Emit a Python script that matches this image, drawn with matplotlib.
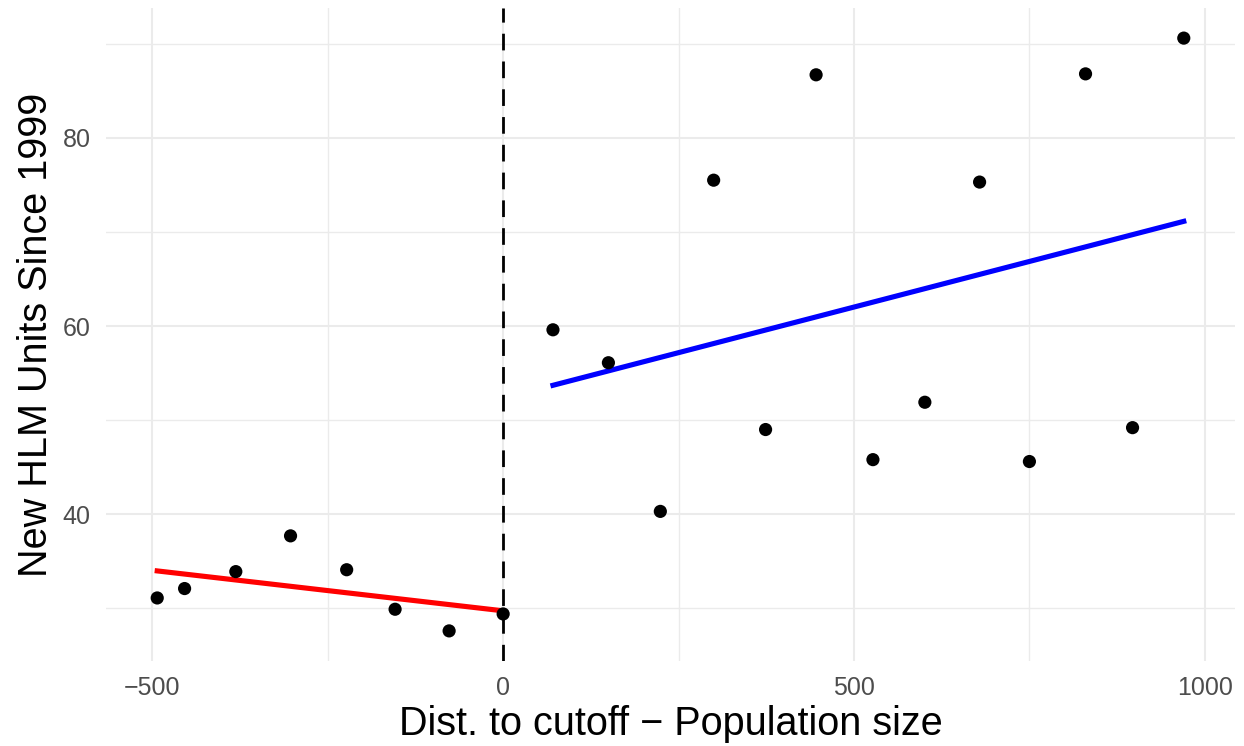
import numpy as np
import matplotlib.pyplot as plt
from matplotlib.ticker import MultipleLocator

# distance to cutoff and new HLM units
dist_left = [-493, -454, -381, -303, -223, -154, -77, 0]
units_left = [31.1, 32.1, 33.9, 37.7, 34.1, 29.9, 27.6, 29.4]
dist_right = [71, 150, 224, 300, 374, 446, 527, 601, 679, 750, 830, 897, 970]
units_right = [59.6, 56.1, 40.3, 75.5, 49.0, 86.7, 45.8, 51.9, 75.3, 45.6, 86.8, 49.2, 90.6]

plt.rcParams['font.family'] = ['Liberation Sans', 'DejaVu Sans']

fig = plt.figure(figsize=(12.44, 7.46), dpi=100)
ax = fig.add_axes([106 / 1244, 85 / 746, 1129 / 1244, 653 / 746])

# linear fits on each side of the cutoff
xl = np.array(dist_left)
xr = np.array(dist_right)
fit_l = np.polyfit(xl, units_left, 1)
fit_r = np.polyfit(xr, units_right, 1)
ax.plot([xl.min(), xl.max()], np.polyval(fit_l, [xl.min(), xl.max()]), color='red', lw=3.7, zorder=3)
ax.plot([xr.min(), xr.max()], np.polyval(fit_r, [xr.min(), xr.max()]), color='blue', lw=3.7, zorder=3)

ax.axvline(0, color='black', lw=2, dashes=(6, 4), zorder=2)
ax.scatter(dist_left + dist_right, units_left + units_right, s=90, color='black', zorder=4, edgecolors='none')

ax.set_xlim(-566, 1043)
ax.set_ylim(24.4, 93.8)
ax.xaxis.set_minor_locator(MultipleLocator(250))
ax.yaxis.set_major_locator(MultipleLocator(20))
ax.yaxis.set_minor_locator(MultipleLocator(10))
ax.set_xticks([-500, 0, 500, 1000])
ax.set_xticklabels(['\u2212500', '0', '500', '1000'])

ax.grid(which='major', color='#EBEBEB', lw=1.5)
ax.grid(which='minor', color='#EBEBEB', lw=1.0)
ax.set_axisbelow(True)
for s in ax.spines.values():
    s.set_visible(False)
ax.tick_params(which='both', length=0, labelsize=18, labelcolor='#4D4D4D')
ax.tick_params(axis='x', pad=10.5)
ax.tick_params(axis='y', pad=11)

ax.set_xlabel('Dist. to cutoff \u2212 Population size', fontsize=28.5)
ax.set_ylabel('New HLM Units Since 1999', fontsize=28.5)
ax.xaxis.set_label_coords(0.5, -0.068)
ax.yaxis.set_label_coords(-0.045, 0.5)

fig.savefig('out.png', dpi=100)
